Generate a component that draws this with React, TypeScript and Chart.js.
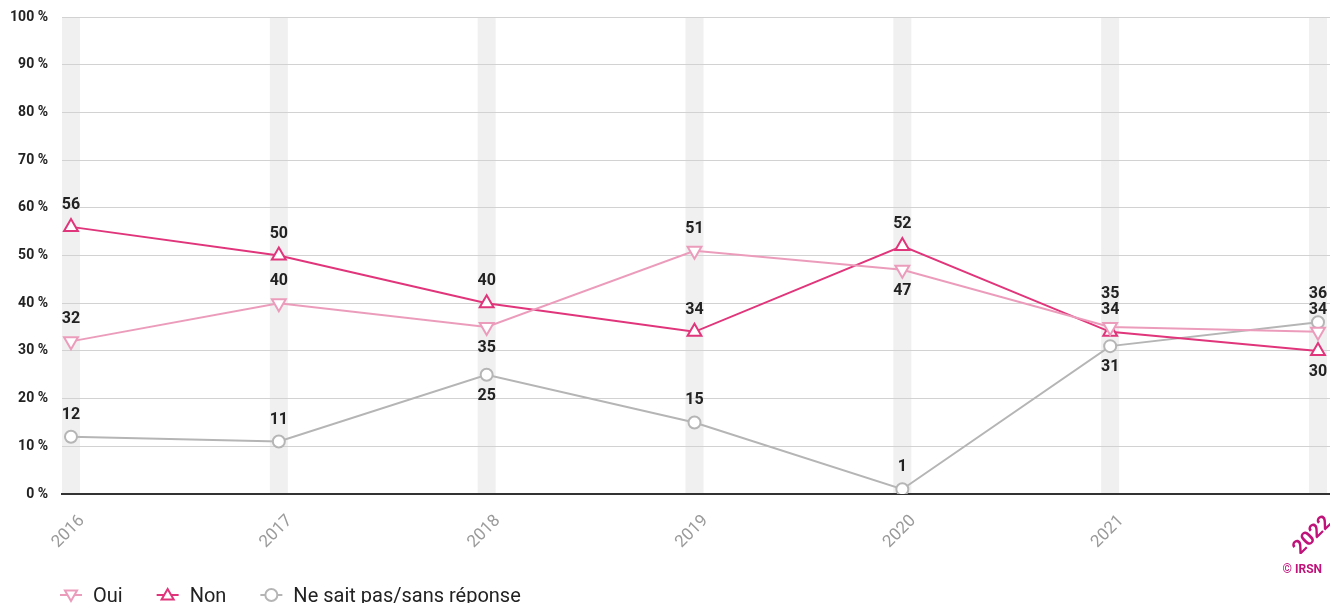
import React, { useEffect, useRef } from 'react';
import { Chart, registerables } from 'chart.js';

Chart.register(...registerables);

const categories = ['2016', '2017', '2018', '2019', '2020', '2021', '2022'];
const ouiValues = [32, 40, 35, 51, 47, 35, 34];
const nonValues = [56, 50, 40, 34, 52, 34, 30];
const nspValues = [12, 11, 25, 15, 1, 31, 36];
const ouiLabelPos = ['above', 'above', 'below', 'above', 'below', 'above', 'above'];
const nonLabelPos = ['above', 'above', 'above', 'above', 'above', 'above', 'below'];
const nspLabelPos = ['above', 'above', 'below', 'above', 'above', 'below', 'above'];
const seriesNames = ['Oui', 'Non', 'Ne sait pas/sans réponse'];
const yTicks = [0, 10, 20, 30, 40, 50, 60, 70, 80, 90, 100];

const COL_OUI = '#ec9cbb';
const COL_NON = '#e0357a';
const COL_NSP = '#b5b5b5';
const MAGENTA = '#c0137a';
const FONT = 'Roboto, "Noto Sans", sans-serif';

const toPoints = (arr: number[]) => arr.map((v, i) => ({ x: i, y: v }));

const bandsPlugin = {
  id: 'bands',
  beforeDraw(chart: any) {
    const { ctx, chartArea, scales } = chart;
    ctx.save();
    ctx.fillStyle = '#f0f0f0';
    categories.forEach((_, i) => {
      const x = scales.x.getPixelForValue(i);
      ctx.fillRect(x - 9, chartArea.top, 18, chartArea.bottom - chartArea.top);
    });
    ctx.restore();
  },
};

const labelsPlugin = {
  id: 'valueLabels',
  afterDatasetsDraw(chart: any) {
    const { ctx } = chart;
    const positions = [ouiLabelPos, nonLabelPos, nspLabelPos];
    ctx.save();
    ctx.font = `bold 16px ${FONT}`;
    ctx.fillStyle = '#222';
    ctx.textAlign = 'center';
    ctx.textBaseline = 'middle';
    categories.forEach((_, i) => {
      const above: { py: number; x: number; text: string }[] = [];
      const below: { py: number; x: number; text: string }[] = [];
      chart.data.datasets.forEach((ds: any, d: number) => {
        const el = chart.getDatasetMeta(d).data[i];
        const item = { py: el.y, x: el.x, text: String(ds.data[i].y) };
        if (positions[d][i] === 'above') above.push(item);
        else below.push(item);
      });
      above.sort((a, b) => b.py - a.py);
      let last = Infinity;
      above.forEach((it) => {
        let y = it.py - 22;
        if (y > last - 16) y = last - 16;
        ctx.fillText(it.text, it.x, y);
        last = y;
      });
      below.sort((a, b) => a.py - b.py);
      let lastB = -Infinity;
      below.forEach((it) => {
        let y = it.py + 21;
        if (y < lastB + 16) y = lastB + 16;
        ctx.fillText(it.text, it.x, y);
        lastB = y;
      });
    });
    ctx.restore();
  },
};

const legendPlugin = {
  id: 'customLegend',
  afterDraw(chart: any) {
    const { ctx } = chart;
    ctx.save();
    ctx.font = `bold 12px ${FONT}`;
    ctx.fillStyle = MAGENTA;
    ctx.textAlign = 'right';
    ctx.textBaseline = 'middle';
    ctx.fillText('© IRSN', 1322, 570);

    let x = 60;
    const y = 597;
    ctx.font = `20px ${FONT}`;
    chart.data.datasets.forEach((ds: any) => {
      ctx.strokeStyle = ds.borderColor;
      ctx.lineWidth = 2;
      ctx.beginPath();
      ctx.moveTo(x, y - 2);
      ctx.lineTo(x + 22, y - 2);
      ctx.stroke();
      ctx.fillStyle = '#fff';
      const style = ds.pointStyle;
      ctx.beginPath();
      if (style === 'circle') {
        ctx.arc(x + 11, y - 2, 6, 0, Math.PI * 2);
      } else {
        const r = 7;
        const rot = ds.pointRotation ? Math.PI : 0;
        for (let k = 0; k < 3; k++) {
          const a = rot - Math.PI / 2 + (k * 2 * Math.PI) / 3;
          const px = x + 11 + r * Math.cos(a);
          const py = y - 2 + r * Math.sin(a) + (rot ? -1 : 1);
          if (k === 0) ctx.moveTo(px, py);
          else ctx.lineTo(px, py);
        }
        ctx.closePath();
      }
      ctx.fill();
      ctx.stroke();
      ctx.fillStyle = '#222';
      ctx.textAlign = 'left';
      ctx.fillText(ds.label, x + 33, y);
      x += 33 + ctx.measureText(ds.label).width + 34;
    });
    ctx.restore();
  },
};

export default function App() {
  const ref = useRef<HTMLCanvasElement>(null);
  useEffect(() => {
    document.body.style.margin = '0';
    const canvas = ref.current!;
    const common = {
      borderWidth: 2,
      pointBorderWidth: 2,
      pointBackgroundColor: '#fff',
      tension: 0,
    };
    const chart = new Chart(canvas, {
      type: 'line',
      data: {
        datasets: [
          {
            ...common,
            label: seriesNames[0],
            data: toPoints(ouiValues),
            borderColor: COL_OUI,
            pointBorderColor: COL_OUI,
            pointStyle: 'triangle',
            pointRotation: 180,
            pointRadius: 8,
          },
          {
            ...common,
            label: seriesNames[1],
            data: toPoints(nonValues),
            borderColor: COL_NON,
            pointBorderColor: COL_NON,
            pointStyle: 'triangle',
            pointRadius: 8,
          },
          {
            ...common,
            label: seriesNames[2],
            data: toPoints(nspValues),
            borderColor: COL_NSP,
            pointBorderColor: COL_NSP,
            pointStyle: 'circle',
            pointRadius: 6,
          },
        ] as any,
      },
      options: {
        animation: false,
        responsive: false,
        layout: { autoPadding: false, padding: { top: 17, right: 0, left: 0, bottom: 49 } },
        plugins: { legend: { display: false }, tooltip: { enabled: false } },
        scales: {
          x: {
            type: 'linear',
            min: -9 / 208,
            max: 6 + 12 / 208,
            grid: { display: false },
            border: { display: true, color: '#333', width: 2 },
            afterFit: (s: any) => {
              s.height = 60;
              s.paddingLeft = 0;
              s.paddingRight = 0;
            },
            afterBuildTicks: (s: any) => {
              s.ticks = categories.map((_, i) => ({ value: i }));
            },
            ticks: {
              includeBounds: false,
              stepSize: 1,
              autoSkip: false,
              minRotation: 45,
              maxRotation: 45,
              padding: 9,
              labelOffset: 11,
              callback: (v: any) => categories[v] ?? '',
              color: (c: any) => (c.tick && c.tick.value === 6 ? MAGENTA : '#9a9a9a'),
              font: (c: any) =>
                c.tick && c.tick.value === 6
                  ? { family: FONT, size: 20, weight: 'bold' }
                  : { family: FONT, size: 17 },
            },
          },
          y: {
            min: 0,
            max: 100,
            afterFit: (s: any) => {
              s.width = 62;
              s.paddingTop = 0;
              s.paddingBottom = 0;
            },
            afterBuildTicks: (s: any) => {
              s.ticks = yTicks.map((v) => ({ value: v }));
            },
            border: { display: false },
            grid: {
              drawTicks: false,
              color: (c: any) => (c.tick && c.tick.value === 0 ? 'rgba(0,0,0,0)' : '#d2d2d2'),
              lineWidth: 1,
            },
            ticks: {
              stepSize: 10,
              padding: 14,
              color: '#222',
              font: { family: FONT, size: 14, weight: 'bold' },
              callback: (v: any) => `${v} %`,
            },
          },
        },
      } as any,
      plugins: [bandsPlugin, labelsPlugin, legendPlugin],
    });
    return () => chart.destroy();
  }, []);
  return (
    <div style={{ width: 1330, height: 603 }}>
      <canvas ref={ref} width={1330} height={603} style={{ display: 'block' }} />
    </div>
  );
}
